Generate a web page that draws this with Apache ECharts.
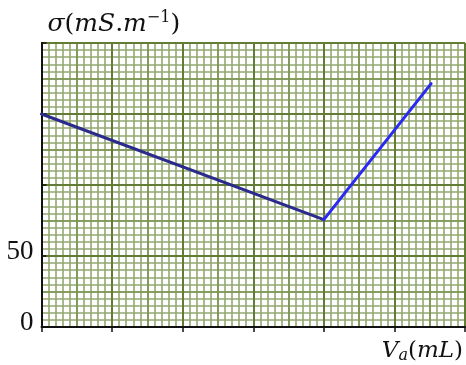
<!DOCTYPE html>
<html>
<head>
<meta charset="utf-8">
<script src="https://cdn.jsdelivr.net/npm/echarts@6/dist/echarts.min.js"></script>
<style>
html, body { margin: 0; padding: 0; background: #fff; }
#chart { width: 466px; height: 365px; }
</style>
</head>
<body>
<div id="chart"></div>
<script>
// volume (mL) et conductivité (mS/m)
var vaValues = [0, 20, 27.6];
var sigmaValues = [150, 75.6, 171.4];
var yLabels = [0, 50];

var minorColor = '#93a870';
var mediumColor = '#7a9350';
var majorColor = '#627c35';

function gridAxis(interval, color, width, z) {
    return {
        type: 'value', min: 0, max: 30, interval: interval, position: 'bottom', z: z,
        axisLine: { show: false }, axisTick: { show: false }, axisLabel: { show: false },
        splitLine: { show: true, lineStyle: { color: color, width: width } }
    };
}
function gridAxisY(interval, color, width, z) {
    return {
        type: 'value', min: 0, max: 200, interval: interval, position: 'left', z: z,
        axisLine: { show: false }, axisTick: { show: false }, axisLabel: { show: false },
        splitLine: { show: true, lineStyle: { color: color, width: width } }
    };
}

var xMajor = gridAxis(5, majorColor, 2, 2);
xMajor.axisLine = { show: true, lineStyle: { color: '#111', width: 2 } };
xMajor.axisTick = { show: true, inside: false, length: 5, lineStyle: { color: '#111', width: 1.5 } };
xMajor.name = '{i|V}{sub|a}{n|(}{i|mL}{n|)}';
xMajor.nameLocation = 'end';
xMajor.nameGap = 0;
xMajor.nameTextStyle = {
    align: 'right', verticalAlign: 'top', padding: [11, 2, 0, 0],
    rich: {
        i: { fontFamily: 'DejaVu Serif', fontStyle: 'italic', fontSize: 23, color: '#111' },
        n: { fontFamily: 'DejaVu Serif', fontSize: 23, color: '#111' },
        sub: { fontFamily: 'DejaVu Serif', fontStyle: 'italic', fontSize: 16, color: '#111', padding: [10, 0, 0, 0] }
    }
};

var yMajor = gridAxisY(50, majorColor, 2, 2);
yMajor.axisLine = { show: true, lineStyle: { color: '#111', width: 2 } };
yMajor.axisTick = { show: true, inside: true, length: 5, lineStyle: { color: '#111', width: 1.5 } };
yMajor.axisLabel = {
    show: true, margin: 8, fontFamily: 'Liberation Serif', fontSize: 27, color: '#111',
    verticalAlign: 'bottom', lineHeight: 8,
    formatter: function (v) { return yLabels.indexOf(v) >= 0 ? String(v) : ''; }
};
yMajor.name = '{i|σ}{n|(}{i|mS}{n|.}{i|m}{sup|−1}{n|)}';
yMajor.nameLocation = 'end';
yMajor.nameGap = 5;
yMajor.nameTextStyle = {
    align: 'left', verticalAlign: 'bottom', padding: [0, 0, 0, 6],
    rich: {
        i: { fontFamily: 'DejaVu Serif', fontStyle: 'italic', fontSize: 25, color: '#111' },
        n: { fontFamily: 'DejaVu Serif', fontSize: 25, color: '#111' },
        sup: { fontFamily: 'DejaVu Serif', fontSize: 16, color: '#111', padding: [0, 0, 12, 0] }
    }
};

var option = {
    animation: false,
    backgroundColor: '#fff',
    grid: { left: 41.5, top: 43, width: 424, height: 284 },
    xAxis: [gridAxis(0.5, minorColor, 1.6, 0), gridAxis(2.5, mediumColor, 1.6, 1), xMajor],
    yAxis: [gridAxisY(5, minorColor, 1.6, 0), gridAxisY(25, mediumColor, 1.6, 1), yMajor],
    series: [
        {
            type: 'line', xAxisIndex: 2, yAxisIndex: 2, z: 5, showSymbol: false,
            data: [[vaValues[0], sigmaValues[0]], [vaValues[1], sigmaValues[1]]],
            lineStyle: { color: '#2b2b8c', width: 3, cap: 'round' }
        },
        {
            type: 'line', xAxisIndex: 2, yAxisIndex: 2, z: 5, showSymbol: false,
            data: [[vaValues[1], sigmaValues[1]], [vaValues[2], sigmaValues[2]]],
            lineStyle: { color: '#2a2af2', width: 3, cap: 'round' }
        }
    ]
};

var myChart = echarts.init(document.getElementById('chart'));
myChart.setOption(option);
</script>
</body>
</html>
